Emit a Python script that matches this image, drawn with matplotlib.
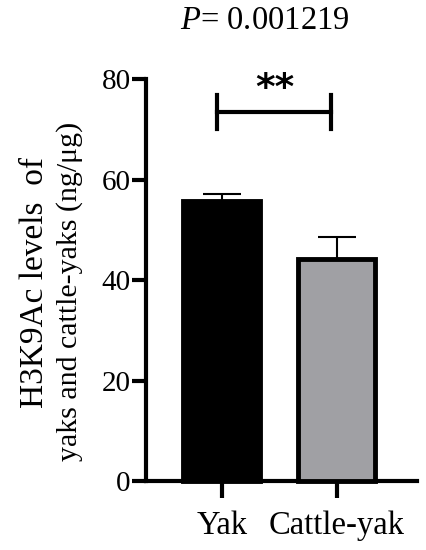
import matplotlib.pyplot as plt
import numpy as np

# datos
groups = ["Yak", "Cattle-yak"]
means = [55.8, 44.2]
errs = [1.4, 4.3]
colors = ["#000000", "#a0a0a4"]
ylabel_lines = ["H3K9Ac levels  of", "yaks and cattle-yaks (ng/\u03bcg)"]
p_text = "= 0.001219"
stars = "**"

plt.rcParams['font.family'] = ['Liberation Serif', 'DejaVu Serif']
plt.rcParams['mathtext.fontset'] = 'custom'
plt.rcParams['mathtext.it'] = 'Liberation Serif:italic'
plt.rcParams['mathtext.rm'] = 'Liberation Serif'

fig = plt.figure(figsize=(4.27, 5.5), dpi=100)
ax = fig.add_axes([0.342, 0.1255, 0.635, 0.7305])

x = np.arange(len(groups))
# barras con borde grueso
ax.bar(x, means, width=0.67, color=colors, edgecolor='black', linewidth=3.5, zorder=3, clip_on=False)
ax.errorbar(x, means, yerr=[[0, 0], errs], fmt='none', ecolor='black',
            elinewidth=1.5, capsize=14, capthick=1.5, zorder=2)

# corchete de significancia
y_br = 73.4
ax.plot([x[0] - 0.04, x[1] - 0.05], [y_br, y_br], color='black', lw=3, clip_on=False)
ax.plot([x[0] - 0.04, x[0] - 0.04], [70.0, 76.8], color='black', lw=3, clip_on=False)
ax.plot([x[1] - 0.05, x[1] - 0.05], [70.0, 76.8], color='black', lw=3, clip_on=False)
ax.text((x[0] + x[1]) / 2 - 0.04, 78.0, stars, ha='center', va='center',
        fontsize=27, fontweight='bold', family='DejaVu Sans')

ax.set_xlim(-0.66, 1.70)
ax.set_ylim(0, 80)
ax.set_yticks([0, 20, 40, 60, 80])
ax.set_xticks(x)
ax.set_xticklabels(groups)

for s in ['top', 'right']:
    ax.spines[s].set_visible(False)
for s in ['left', 'bottom']:
    ax.spines[s].set_linewidth(3)
ax.tick_params(axis='y', length=10, width=3, labelsize=21, pad=1)
ax.tick_params(axis='x', length=12, width=3, labelsize=23.5, pad=9)

# etiqueta del eje y en dos lineas (la primera un poco mas ancha)
fig.text(35 / 427, 1 - 282 / 550, ylabel_lines[0], rotation=90, ha='center', va='center', fontsize=24)
fig.text(70 / 427, 1 - 291 / 550, ylabel_lines[1], rotation=90, ha='center', va='center', fontsize=21.5)

# titulo con P en cursiva
fig.text(0.62, 0.962, "$\\it{P}$" + p_text, ha='center', va='center', fontsize=23.5)

fig.savefig("out.png", dpi=100)
